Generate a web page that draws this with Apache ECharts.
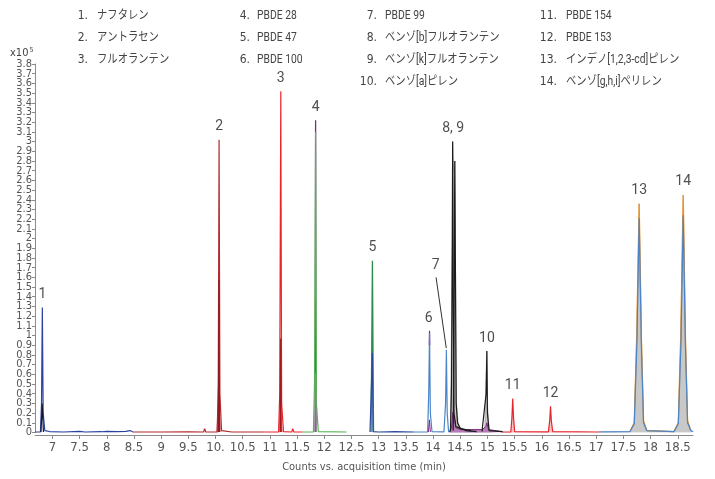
<!DOCTYPE html>
<html>
<head>
<meta charset="utf-8">
<script src="https://cdn.jsdelivr.net/npm/echarts@6/dist/echarts.min.js"></script>
<style>
  html, body { margin: 0; padding: 0; background: #fff; }
  #chart { width: 715px; height: 479px; }
</style>
</head>
<body>
<div id="chart"></div>
<script>
// Compound list (peak number, name)
const compoundNums = ['1.', '2.', '3.', '4.', '5.', '6.', '7.', '8.', '9.', '10.', '11.', '12.', '13.', '14.'];
const compoundNames = ['ナフタレン', 'アントラセン', 'フルオランテン', 'PBDE 28', 'PBDE 47', 'PBDE 100',
  'PBDE 99', 'ベンゾ[b]フルオランテン', 'ベンゾ[k]フルオランテン', 'ベンゾ[a]ピレン',
  'PBDE 154', 'PBDE 153', 'インデノ[1,2,3-cd]ピレン', 'ベンゾ[g,h,i]ペリレン'];

// X axis tick values and their printed labels
const xTickValues = [7, 7.5, 8, 8.5, 9, 9.5, 10, 10.5, 11, 11.5, 12, 12.5, 13, 13.5, 14, 14.5, 15, 15.5, 16, 16.5, 17, 17.5, 18, 18.5];
const xTickLabels = ['7', '7.5', '8', '8.5', '9', '9.5', '10.', '10.5', '11', '11.5', '12', '12.5', '13', '13.5', '14', '14.5', '15', '15.5', '16', '16.5', '17', '17.5', '18', '18.5'];
// Y axis tick values (x10^5 counts)
const yTickValues = [0, 0.1, 0.2, 0.3, 0.4, 0.5, 0.6, 0.7, 0.8, 0.9, 1, 1.1, 1.2, 1.3, 1.4, 1.5, 1.6, 1.7, 1.8, 1.9,
  2, 2.1, 2.2, 2.3, 2.4, 2.5, 2.6, 2.7, 2.8, 2.9, 3, 3.1, 3.2, 3.3, 3.4, 3.5, 3.6, 3.7, 3.8];

// Chromatogram traces: [time (min), counts (x10^5)]
// segment 6.7 - 8.5 min
const traceSeg1 = [[6.68, 0.005], [6.78, 0.006], [6.80, 0.3], [6.815, 1.29], [6.83, 0.2], [6.86, 0.02], [6.95, 0.01], [7.2, 0.005], [7.5, 0.012], [7.6, 0.005], [7.9, 0.008], [8.0, 0.012], [8.2, 0.008], [8.35, 0.012], [8.43, 0.02], [8.48, 0.005]];
const tracePk1Low = [[6.79, 0.005], [6.812, 0.3], [6.835, 0.005]];
// segment 8.5 - 10.9 min
const traceSeg2 = [[8.48, 0.005], [9.0, 0.005], [9.5, 0.006], [9.78, 0.005], [9.80, 0.04], [9.82, 0.005], [10.03, 0.006], [10.05, 0.5], [10.065, 3.02], [10.08, 0.4], [10.11, 0.02], [10.3, 0.005], [10.9, 0.005]];
const tracePk2Mid = [[10.052, 0.005], [10.063, 1.57], [10.074, 0.005]];
const tracePk2Low = [[10.02, 0.005], [10.06, 0.25], [10.10, 0.005]];
// segment 10.9 - 11.6 min
const traceSeg3 = [[10.9, 0.005], [11.16, 0.006], [11.18, 0.4], [11.2, 3.52], [11.215, 0.3], [11.25, 0.01], [11.40, 0.005], [11.42, 0.04], [11.44, 0.005], [11.6, 0.005]];
const tracePk3Mid = [[11.188, 0.005], [11.198, 0.97], [11.208, 0.005]];
const tracePk3Low = [[11.16, 0.005], [11.195, 0.2], [11.23, 0.005]];
// segment 11.6 - 12.4 min
const traceSeg4 = [[11.6, 0.005], [11.63, 0.025], [11.65, 0.005], [11.68, 0.02], [11.70, 0.005], [11.80, 0.006], [11.82, 0.5], [11.84, 3.10], [11.855, 0.3], [11.89, 0.01], [12.41, 0.005]];
const tracePk4Top = [[11.833, 0.005], [11.84, 3.22], [11.847, 0.005]];
const tracePk4Low = [[11.828, 0.005], [11.84, 0.61], [11.852, 0.005]];
// segment 12.85 - 13.65 min
const tracePk5 = [[12.86, 0.005], [12.885, 1.77], [12.905, 0.005]];
const traceSeg5 = [[12.84, 0.005], [12.875, 0.01], [12.885, 0.82], [12.895, 0.01], [13.0, 0.005], [13.3, 0.01], [13.65, 0.005]];
// segment 13.65 - 14.3 min
const traceSeg6 = [[13.65, 0.005], [13.90, 0.006], [13.92, 0.4], [13.935, 1.02], [13.95, 0.2], [13.98, 0.01], [14.2, 0.006], [14.23, 0.3], [14.245, 0.85], [14.26, 0.2], [14.285, 0.01], [14.3, 0.005]];
const tracePk6Top = [[13.931, 0.9], [13.935, 1.05], [13.939, 0.9]];
const tracePk6Low = [[13.915, 0.005], [13.933, 0.13], [13.95, 0.005]];
// segment 14.3 - 15.3 min
const traceSeg7Sum = [[14.3, 0.01], [14.32, 0.05], [14.34, 1.2], [14.36, 3.0], [14.38, 2.7], [14.40, 2.8], [14.415, 1.6], [14.43, 0.3], [14.46, 0.1], [14.5, 0.05], [14.6, 0.03], [14.8, 0.02], [14.95, 0.03], [14.97, 0.4], [14.985, 0.84], [15.0, 0.3], [15.03, 0.03], [15.28, 0.01]];
const tracePk8 = [[14.32, 0.01], [14.34, 0.5], [14.355, 2.0], [14.36, 3.0], [14.37, 1.5], [14.385, 0.2], [14.42, 0.06], [14.6, 0.02], [14.8, 0.01]];
const tracePk9 = [[14.37, 0.02], [14.385, 1.0], [14.395, 2.3], [14.40, 2.8], [14.41, 1.8], [14.425, 0.3], [14.45, 0.1], [14.5, 0.04], [14.7, 0.02]];
const tracePk10 = [[14.9, 0.01], [14.975, 0.4], [14.99, 0.84], [15.0, 0.2], [15.03, 0.02], [15.28, 0.01]];
const traceSeg7Minor = [[14.3, 0.005], [14.34, 0.05], [14.365, 0.21], [14.39, 0.15], [14.42, 0.05], [14.5, 0.03], [14.7, 0.03], [14.9, 0.03], [14.97, 0.06], [14.99, 0.1], [15.02, 0.03], [15.28, 0.005]];
// segment 15.3 - 17.0 min
const traceSeg8 = [[15.28, 0.005], [15.43, 0.006], [15.45, 0.15], [15.465, 0.35], [15.48, 0.15], [15.5, 0.01], [16.12, 0.006], [16.145, 0.12], [16.16, 0.27], [16.175, 0.12], [16.2, 0.01], [17.05, 0.005]];
// segment 17.0 - end
const traceSeg9Sum = [[17.05, 0.01], [17.62, 0.01], [17.70, 0.1], [17.745, 1.0], [17.79, 2.36], [17.83, 1.0], [17.87, 0.12], [17.93, 0.02], [18.43, 0.01], [18.51, 0.1], [18.555, 1.0], [18.60, 2.45], [18.64, 1.0], [18.68, 0.12], [18.74, 0.02], [18.78, 0.01]];
const tracePk1314a = [[17.62, 0.01], [17.70, 0.1], [17.745, 1.0], [17.79, 2.36], [17.83, 1.0], [17.87, 0.12], [17.93, 0.02], [18.43, 0.01], [18.51, 0.1], [18.555, 1.0], [18.60, 2.45], [18.64, 1.0], [18.68, 0.12], [18.74, 0.02]];
const traceSeg9 = [[17.05, 0.005], [17.62, 0.008], [17.70, 0.09], [17.75, 0.95], [17.79, 2.21], [17.83, 0.9], [17.87, 0.1], [17.93, 0.02], [18.43, 0.008], [18.51, 0.09], [18.56, 0.95], [18.60, 2.24], [18.64, 0.9], [18.68, 0.1], [18.74, 0.02], [18.78, 0.008]];

// Peak labels: text, apex time, apex value
const peakText = ['1', '2', '3', '4', '5', '6', '8, 9', '10', '11', '12', '13', '14'];
const peakTime = [6.815, 10.065, 11.2, 11.84, 12.885, 13.92, 14.37, 14.99, 15.465, 16.16, 17.79, 18.60];
const peakValue = [1.29, 3.02, 3.52, 3.22, 1.77, 1.04, 3.0, 0.84, 0.35, 0.27, 2.36, 2.45];
// Label 7 sits away from its peak, joined by a leader line
const label7Anchor = [14.05, 1.72];
const leader7 = [[14.055, 1.6], [14.243, 0.87]];

const FONT = "Roboto, 'Noto Sans CJK JP', sans-serif";
const NARROW = "'Liberation Sans Narrow', 'DejaVu Sans Condensed', Roboto, sans-serif";

function trace(data, color, width, z, area) {
  const s = {
    type: 'line', data: data, showSymbol: false, symbol: 'none', silent: true,
    animation: false, z: z, clip: true,
    lineStyle: { color: color, width: width }
  };
  if (area) s.areaStyle = { color: area, opacity: 1 };
  return s;
}

const series = [
  trace(traceSeg1, '#2a42a2', 1.2, 2),
  trace(tracePk1Low, '#1a1a2a', 1.2, 3),
  trace(tracePk2Low, '#eaa3a5', 1.2, 2, 'rgba(234,163,165,0.5)'),
  trace(traceSeg2, '#b32a2e', 1.2, 3),
  trace(tracePk2Mid, '#8e1c1f', 1.2, 4),
  trace(tracePk3Low, '#f2a5a7', 1.2, 2, 'rgba(242,165,167,0.5)'),
  trace(traceSeg3, '#e8252b', 1.2, 3),
  trace(tracePk3Mid, '#a3191d', 1.2, 4),
  trace(tracePk4Top, '#7b2a8c', 1.3, 2),
  trace(traceSeg4, '#55b352', 1.2, 3),
  trace(tracePk4Low, '#8a8a8a', 1.0, 4),
  trace(tracePk5, '#2a8c4c', 1.3, 2),
  trace(traceSeg5, '#2b4a9c', 1.2, 3),
  trace(tracePk6Top, '#7b2a8c', 1.2, 2),
  trace(traceSeg6, '#4a85c9', 1.2, 3),
  trace(tracePk6Low, '#7b2a8c', 1.0, 4),
  trace(traceSeg7Sum, '#9a9a9a', 0.6, 2, '#c4c4c4'),
  trace(traceSeg7Minor, '#7d2b7d', 1.0, 3, '#b57cb5'),
  trace(tracePk8, '#1b1b1b', 1.2, 4),
  trace(tracePk9, '#1b1b1b', 1.2, 4),
  trace(tracePk10, '#1b1b1b', 1.2, 4),
  trace(traceSeg8, '#e3262c', 1.2, 3, 'rgba(232,80,85,0.35)'),
  trace(traceSeg9Sum, '#a8a8a8', 0.6, 2, '#c8c8c8'),
  trace(tracePk1314a, '#f3931f', 1.3, 3),
  trace(traceSeg9, '#4a85c9', 1.2, 4),
  {
    type: 'line', data: leader7, showSymbol: false, symbol: 'none', silent: true, animation: false, z: 6,
    lineStyle: { color: '#1a1a1a', width: 0.9 }
  },
  {
    type: 'scatter', symbolSize: 0, silent: true, animation: false, z: 7,
    data: peakText.map((t, i) => ({ value: [peakTime[i], peakValue[i]], name: t }))
      .concat([{ value: label7Anchor, name: '7', label: { position: 'inside' } }]),
    label: {
      show: true, position: 'top', distance: 6, formatter: p => p.name,
      color: '#222', fontSize: 14, fontFamily: FONT
    }
  }
];

// Compound list laid out in four columns
const colNumRight = [88, 250, 377, 557];
const colTextLeft = [97, 257, 385, 566];
const colStart = [0, 3, 6, 10];
const colCount = [3, 3, 4, 4];
const rowY = [16, 38, 60, 82];
const graphics = [];
colStart.forEach((start, c) => {
  for (let r = 0; r < colCount[c]; r++) {
    const k = start + r;
    graphics.push({
      type: 'text', x: colNumRight[c], y: rowY[r], silent: true,
      style: { text: compoundNums[k], align: 'right', verticalAlign: 'middle', fill: '#444', font: '12px ' + NARROW }
    });
    graphics.push({
      type: 'text', x: colTextLeft[c], y: rowY[r], silent: true, scaleX: 0.86,
      style: { text: compoundNames[k], verticalAlign: 'middle', fill: '#444', font: '12px ' + FONT }
    });
  }
});
graphics.push({
  type: 'text', left: 10, top: 47, silent: true,
  style: {
    text: '{a|x10}{b|5}',
    rich: {
      a: { fontSize: 11, fontFamily: NARROW, fill: '#444' },
      b: { fontSize: 7, fontFamily: NARROW, fill: '#444', padding: [0, 0, 6, 1] }
    }
  }
});

// The tick labels are packed tightly, so alternate ones go on a second,
// label-only copy of the same scale to keep every label visible.
const yFmt = v => String(Number(v.toFixed(1)));
const yLabelStyle = { margin: 3, color: '#555', fontSize: 11, fontFamily: NARROW, hideOverlap: false, formatter: yFmt };
const yEven = yTickValues.filter((v, i) => i % 2 === 0);
const yOdd = yTickValues.filter((v, i) => i % 2 === 1);

const chart = echarts.init(document.getElementById('chart'), null, { renderer: 'canvas' });
chart.setOption({
  animation: false,
  backgroundColor: '#fff',
  grid: { left: 35, right: 22, top: 64, bottom: 46.5, containLabel: false, outerBoundsMode: 'none' },
  xAxis: {
    type: 'value', min: 6.68, max: 18.78, offset: 2.5,
    name: 'Counts vs. acquisition time (min)', nameLocation: 'middle', nameGap: 27,
    nameTextStyle: { color: '#555', fontSize: 11, fontFamily: NARROW },
    splitLine: { show: false },
    axisLine: { show: true, onZero: false, lineStyle: { color: '#8a8a8a', width: 1 } },
    axisTick: { show: true, length: 4, customValues: xTickValues, lineStyle: { color: '#8a8a8a' } },
    axisLabel: {
      customValues: xTickValues, margin: 6, color: '#555', fontSize: 13, fontFamily: NARROW,
      formatter: v => { const i = xTickValues.indexOf(v); return i >= 0 ? xTickLabels[i] : ''; }
    }
  },
  yAxis: [{
    type: 'value', min: 0, max: 3.8, position: 'left',
    splitLine: { show: false },
    axisLine: { show: true, onZero: false, lineStyle: { color: '#8a8a8a', width: 1 } },
    axisTick: { show: true, length: 3, customValues: yTickValues, lineStyle: { color: '#8a8a8a' } },
    axisLabel: Object.assign({ customValues: yEven }, yLabelStyle)
  }, {
    type: 'value', min: 0, max: 3.8, position: 'left',
    splitLine: { show: false },
    axisLine: { show: false, onZero: false },
    axisTick: { show: false },
    axisLabel: Object.assign({ customValues: yOdd }, yLabelStyle)
  }],
  graphic: graphics,
  series: series
});
</script>
</body>
</html>
